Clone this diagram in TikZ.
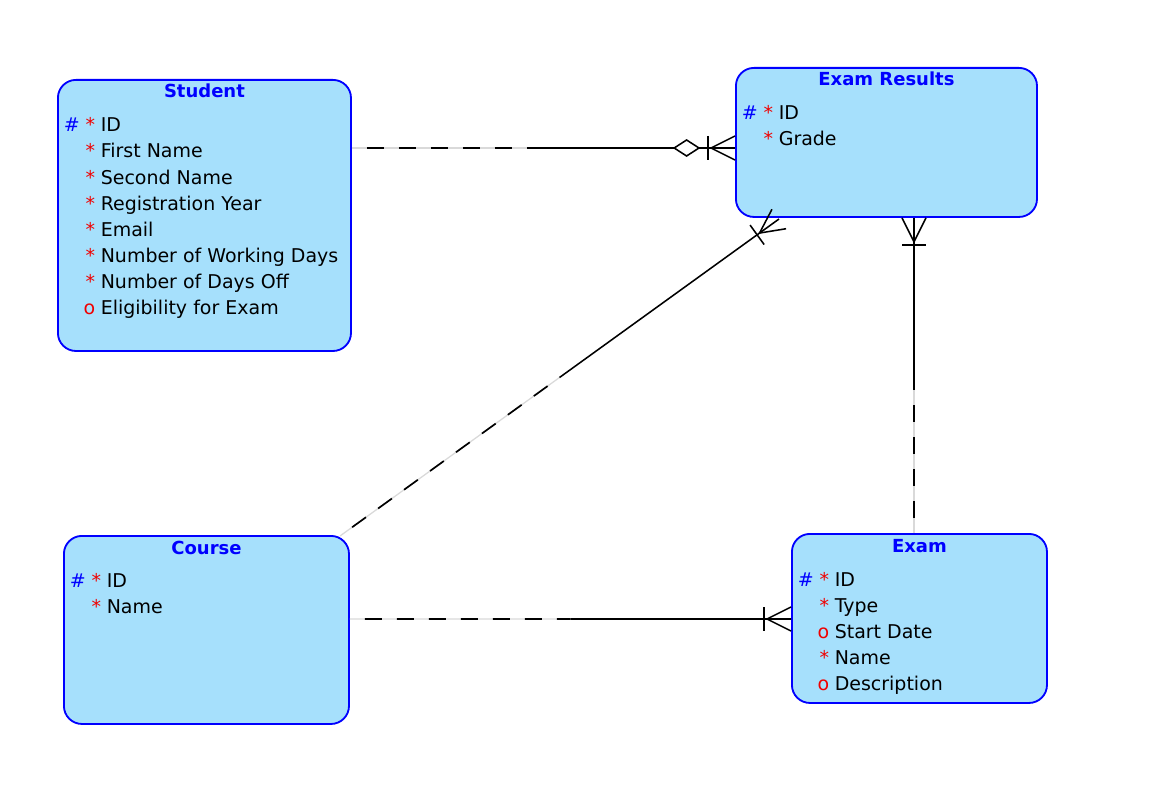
\documentclass[tikz,border=0pt]{standalone}
\usepackage{fontspec}
\setmainfont{DejaVu Sans}
\usetikzlibrary{calc}

\definecolor{boxfill}{RGB}{166,224,252}
\definecolor{boxline}{RGB}{0,0,255}
\definecolor{keyred}{RGB}{240,0,0}

\newcommand{\pkey}{\textcolor{boxline}{\#} \textcolor{keyred}{*}}
\newcommand{\reqd}{\textcolor{keyred}{*}}
\newcommand{\optl}{\textcolor{keyred}{o}}

% many end: tines meet 24px back, bar 27px back
\newcommand{\crowfoot}[2]{%
  \coordinate (cf-p) at ($(#2)!0.6cm!(#1)$);
  \coordinate (cf-q) at ($(#2)!0.675cm!(#1)$);
  \draw[link] ($(#2)!0.3cm!90:(#1)$) -- (cf-p) -- ($(#2)!0.3cm!-90:(#1)$);
  \draw[link] ($(cf-q)!0.3cm!90:(#2)$) -- ($(cf-q)!0.3cm!-90:(#2)$);
}
% hollow diamond before the many end
\newcommand{\diamondend}[2]{%
  \coordinate (cf-d) at ($(#2)!1.21cm!(#1)$);
  \draw[link, fill=white] ($(cf-d)!0.31cm!(#2)$) -- ($(cf-d)!0.2cm!90:(#2)$)
    -- ($(cf-d)!0.31cm!180:(#2)$) -- ($(cf-d)!0.2cm!-90:(#2)$) -- cycle;
}
% half dashed, half solid
\newcommand{\relline}[2]{%
  \draw[gap] (#1) -- ($(#1)!0.5!(#2)$);
  \draw[dashpart] (#1) -- ($(#1)!0.5!(#2)$);
  \draw[link] ($(#1)!0.5!(#2)$) -- (#2);
}

\tikzset{
  entity/.style={draw=boxline, fill=boxfill, line width=1.3pt, rounded corners=0.45cm,
    anchor=north west, inner sep=0pt},
  title/.style={font=\fontsize{12.8}{15}\selectfont\bfseries, text=boxline, anchor=base, inner sep=0pt},
  attr/.style={font=\fontsize{13.5}{16}\selectfont, anchor=base west, inner sep=0pt},
  flag/.style={font=\fontsize{13.5}{16}\selectfont, anchor=base east, inner sep=0pt},
  link/.style={line width=1.1pt},
  gap/.style={draw=gray!30, line width=0.9pt},
  dashpart/.style={line width=1.2pt, dash pattern=on 0.425cm off 0.375cm, dash phase=0.425cm},
}

\begin{document}
\begin{tikzpicture}[x=0.025cm, y=-0.025cm]
  \useasboundingbox (0,0) rectangle (1162,794);

  % entities
  \node[entity, minimum width=7.325cm, minimum height=6.775cm] (student) at (57,79) {};
  \node[entity, minimum width=7.525cm, minimum height=3.725cm] (results) at (735,67) {};
  \node[entity, minimum width=7.125cm, minimum height=4.7cm] (course) at (63,535) {};
  \node[entity, minimum width=6.375cm, minimum height=4.225cm] (exam) at (791,533) {};

  \node[title] (student-t) at ($(student.north)+(0,19)$) {Student};
  \node[title] (results-t) at ($(results.north)+(0,19)$) {Exam Results};
  \node[title] (course-t) at ($(course.north)+(0,19)$) {Course};
  \node[title] (exam-t) at ($(exam.north)+(0,19)$) {Exam};

  \foreach \mk/\txt [count=\i from 0] in {\pkey/ID, \reqd/First Name, \reqd/Second Name,
      \reqd/Registration Year, \reqd/Email, \reqd/Number of Working Days,
      \reqd/Number of Days Off, \optl/Eligibility for Exam}{
    \node[flag] (student-f\i) at ($(student.north west)+(38.5,53+26*\i)$) {\mk};
    \node[attr] (student-a\i) at ($(student.north west)+(43.5,53+26*\i)$) {\txt};
  }
  \foreach \mk/\txt [count=\i from 0] in {\pkey/ID, \reqd/Grade}{
    \node[flag] (results-f\i) at ($(results.north west)+(38.5,53+26*\i)$) {\mk};
    \node[attr] (results-a\i) at ($(results.north west)+(43.5,53+26*\i)$) {\txt};
  }
  \foreach \mk/\txt [count=\i from 0] in {\pkey/ID, \reqd/Name}{
    \node[flag] (course-f\i) at ($(course.north west)+(38.5,52+26*\i)$) {\mk};
    \node[attr] (course-a\i) at ($(course.north west)+(43.5,52+26*\i)$) {\txt};
  }
  \foreach \mk/\txt [count=\i from 0] in {\pkey/ID, \reqd/Type, \optl/Start Date,
      \reqd/Name, \optl/Description}{
    \node[flag] (exam-f\i) at ($(exam.north west)+(38.5,53+26*\i)$) {\mk};
    \node[attr] (exam-a\i) at ($(exam.north west)+(43.5,53+26*\i)$) {\txt};
  }

  % relations
  \coordinate (sr-a) at (student.east |- 0,148);
  \coordinate (sr-b) at (results.west |- 0,148);
  \relline{sr-a}{sr-b}
  \diamondend{sr-a}{sr-b}
  \crowfoot{sr-a}{sr-b}

  \coordinate (ce-a) at (course.east |- 0,619);
  \coordinate (ce-b) at (exam.west |- 0,619);
  \relline{ce-a}{ce-b}
  \crowfoot{ce-a}{ce-b}

  \coordinate (er-a) at (exam.north -| 914,0);
  \coordinate (er-b) at (results.south -| 914,0);
  \relline{er-a}{er-b}
  \crowfoot{er-a}{er-b}

  \coordinate (cr-a) at (340,536);
  \coordinate (cr-b) at (779,219);
  \relline{cr-a}{cr-b}
  \crowfoot{cr-a}{cr-b}
\end{tikzpicture}
\end{document}
